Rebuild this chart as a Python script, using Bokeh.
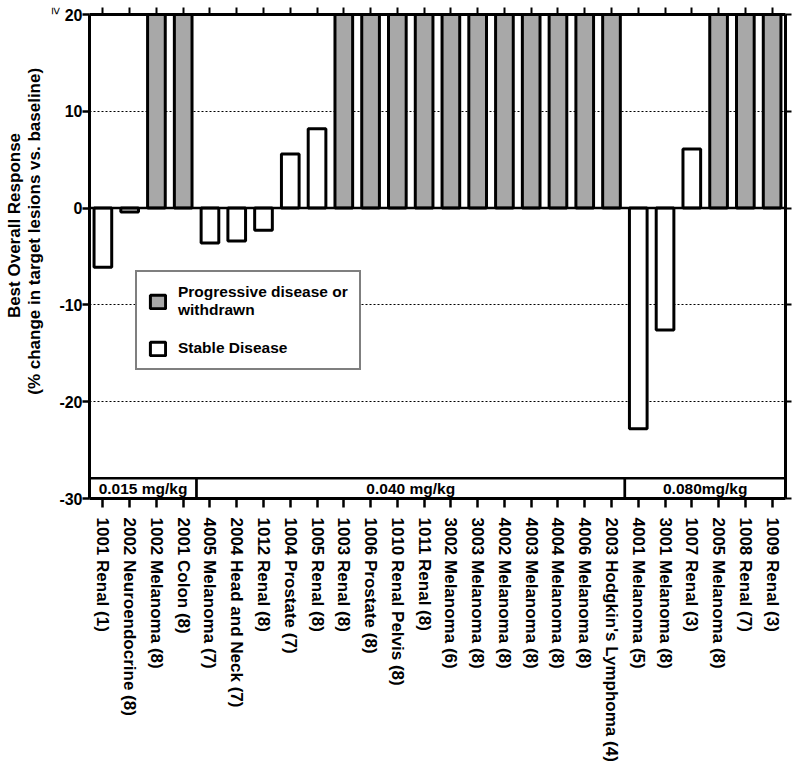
import math
from bokeh.plotting import figure
from bokeh.models import (ColumnDataSource, Range1d, FixedTicker, LinearAxis, Span,
                          Legend, LegendItem)
from bokeh.embed import file_html
from bokeh.resources import INLINE
from bokeh.core.properties import value

# ---------------- data ----------------
patients = ["1001 Renal (1)", "2002 Neuroendocrine (8)", "1002 Melanoma (8)", "2001 Colon (8)",
            "4005 Melanoma (7)", "2004 Head and Neck (7)", "1012 Renal (8)", "1004 Prostate (7)",
            "1005 Renal (8)", "1003 Renal (8)", "1006 Prostate (8)", "1010 Renal Pelvis (8)",
            "1011 Renal (8)", "3002 Melanoma (6)", "3003 Melanoma (8)", "4002 Melanoma (8)",
            "4003 Melanoma (8)", "4004 Melanoma (8)", "4006 Melanoma (8)",
            "2003 Hodgkin's Lymphoma (4)", "4001 Melanoma (5)", "3001 Melanoma (8)",
            "1007 Renal (3)", "2005 Melanoma (8)", "1008 Renal (7)", "1009 Renal (3)"]
# % change in target lesions; progressive disease shown capped at >= 20
responses = [-6.1, -0.4, 20, 20, -3.6, -3.4, -2.3, 5.6, 8.2,
             20, 20, 20, 20, 20, 20, 20, 20, 20, 20, 20,
             -22.8, -12.6, 6.1, 20, 20, 20]
status = ["SD", "SD", "PD", "PD", "SD", "SD", "SD", "SD", "SD",
          "PD", "PD", "PD", "PD", "PD", "PD", "PD", "PD", "PD", "PD", "PD",
          "SD", "SD", "SD", "PD", "PD", "PD"]
doses = ["0.015 mg/kg", "0.040 mg/kg", "0.080mg/kg"]
dose_first = [0, 4, 20]
dose_last = [3, 19, 25]
y_ticks = [-30, -20, -10, 0, 10, 20]
y_tick_labels = ["-30", "-20", "-10", "0", "10", "20"]
y_title = ["Best Overall Response", "(% change in target lesions vs. baseline)"]
cap_value = 20
cap_mark = "\u2265"

FONT = "Liberation Sans"
GRAY = "#a8a8a8"
BAND_TOP = -27.9
TITLE_POS = [-1.8, -2.4]      # where along y each title line is centred
TITLE_SIZE = ["17px", "17px"]

n = len(patients)
xs = list(range(n))

pd_src = ColumnDataSource(dict(x=[i for i in xs if status[i] == "PD"],
                               top=[responses[i] for i in xs if status[i] == "PD"]))
sd_src = ColumnDataSource(dict(x=[i for i in xs if status[i] == "SD"],
                               top=[responses[i] for i in xs if status[i] == "SD"]))

p = figure(width=792, height=767, output_backend="svg", toolbar_location=None,
           x_range=Range1d(-0.5, n - 0.5), y_range=Range1d(-30, 20),
           min_border_left=89, min_border_right=7, min_border_top=14, min_border_bottom=269)
p.background_fill_color = "white"
p.border_fill_color = "white"
p.outline_line_color = None

p.xgrid.visible = False
p.ygrid.ticker = FixedTicker(ticks=y_ticks)
p.ygrid.grid_line_color = "black"
p.ygrid.grid_line_dash = "2 2"
p.ygrid.grid_line_width = 1

r_pd = p.vbar(x="x", top="top", bottom=0, width=0.66, source=pd_src,
              fill_color=GRAY, line_color="black", line_width=3)
r_sd = p.vbar(x="x", top="top", bottom=0, width=0.66, source=sd_src,
              fill_color="white", line_color="black", line_width=3)

p.add_layout(Span(location=0, dimension="width", line_color="black", line_width=2.5))

band_src = ColumnDataSource(dict(
    left=[f - 0.5 for f in dose_first], right=[l + 0.5 for l in dose_last],
    top=[BAND_TOP] * len(doses), bottom=[-30] * len(doses),
    xc=[(f + l) / 2 for f, l in zip(dose_first, dose_last)],
    yc=[(BAND_TOP - 30) / 2] * len(doses), text=doses))
p.quad(left="left", right="right", top="top", bottom="bottom", source=band_src,
       fill_color="white", line_color="black", line_width=2.5)
p.text(x="xc", y="yc", text="text", source=band_src, text_font=value(FONT),
       text_font_style="bold", text_font_size="15.5px", text_align="center",
       text_baseline="middle", text_color="black")

xa = p.xaxis[0]
xa.ticker = FixedTicker(ticks=xs)
xa.major_label_overrides = {i: name for i, name in zip(xs, patients)}
xa.major_label_orientation = -math.pi / 2
xa.major_label_text_font = FONT
xa.major_label_text_font_style = "bold"
xa.major_label_text_font_size = "17px"
xa.major_label_text_color = "black"
xa.major_label_standoff = 10
xa.axis_line_width = 3
xa.major_tick_line_width = 2.5
xa.major_tick_out = 9
xa.major_tick_in = 0
xa.minor_tick_line_color = None

ya = p.yaxis[0]
ya.ticker = FixedTicker(ticks=y_ticks)
ya.major_label_overrides = {v: s for v, s in zip(y_ticks, y_tick_labels)}
ya.major_label_text_font = FONT
ya.major_label_text_font_style = "bold"
ya.major_label_text_font_size = "16px"
ya.major_label_text_color = "black"
ya.major_label_standoff = 0
ya.axis_line_width = 3
ya.major_tick_line_width = 2.5
ya.major_tick_out = 7
ya.major_tick_in = 0
ya.minor_tick_line_color = None


def side_text_axis(pos, text, orientation, size, bold, standoff):
    return LinearAxis(ticker=FixedTicker(ticks=[pos]), major_label_overrides={pos: text},
                      major_label_orientation=orientation, major_label_text_font=FONT,
                      major_label_text_font_size=size,
                      major_label_text_font_style="bold" if bold else "normal",
                      major_label_text_color="black", major_label_standoff=standoff,
                      axis_line_color=None, major_tick_line_color=None,
                      major_tick_out=0, major_tick_in=0, minor_tick_line_color=None)


# ">=" mark beside the 20 tick (rotated clockwise)
p.add_layout(side_text_axis(cap_value, cap_mark, -math.pi / 2, "13px", False, 0), "left")
# two-line y title, outermost last
p.add_layout(side_text_axis(TITLE_POS[1], y_title[1], "vertical", TITLE_SIZE[1], True, -6), "left")
p.add_layout(side_text_axis(TITLE_POS[0], y_title[0], "vertical", TITLE_SIZE[0], True, -2), "left")

top_axis = LinearAxis(ticker=FixedTicker(ticks=xs), major_label_text_font_size="0px",
                      major_label_standoff=0, axis_line_width=3, major_tick_line_width=2,
                      major_tick_out=7, major_tick_in=0, minor_tick_line_color=None)
p.add_layout(top_axis, "above")
right_axis = LinearAxis(ticker=FixedTicker(ticks=y_ticks), major_label_text_font_size="0px",
                        major_label_standoff=0, axis_line_width=3, major_tick_line_width=2,
                        major_tick_out=6, major_tick_in=0, minor_tick_line_color=None)
p.add_layout(right_axis, "right")

legend = Legend(items=[LegendItem(label="Progressive disease or\nwithdrawn", renderers=[r_pd]),
                       LegendItem(label="Stable Disease", renderers=[r_sd])],
                location=(46, 128))
legend.label_text_font = FONT
legend.label_text_font_style = "bold"
legend.label_text_font_size = "15.5px"
legend.label_text_color = "black"
legend.border_line_color = "black"
legend.border_line_width = 2.5
legend.glyph_width = 19
legend.glyph_height = 17
legend.label_standoff = 11
legend.padding = 11
legend.spacing = 20
legend.margin = 0
legend.background_fill_alpha = 1
p.add_layout(legend)

open("out.html", "w").write(file_html(p, INLINE))
